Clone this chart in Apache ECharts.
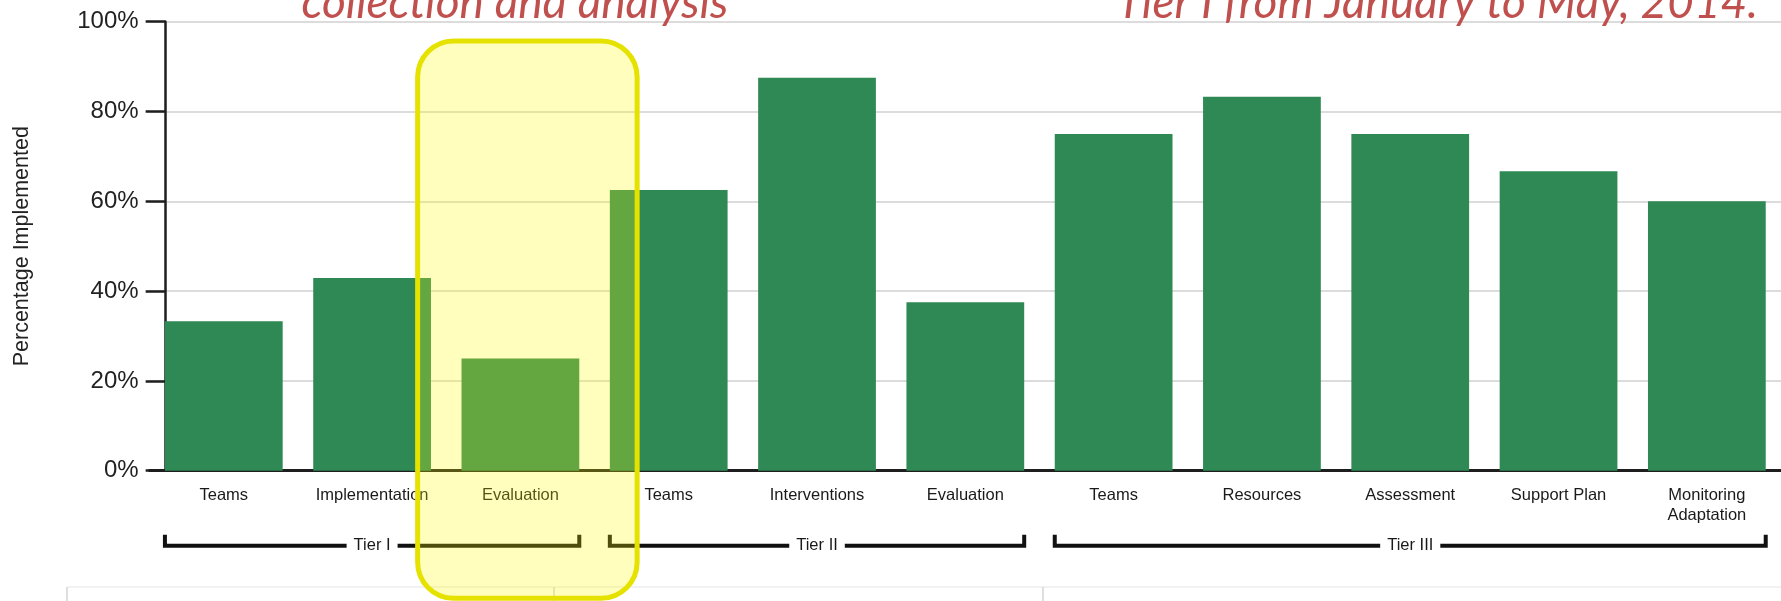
<!DOCTYPE html>
<html>
<head>
<meta charset="utf-8">
<script src="https://cdn.jsdelivr.net/npm/echarts@6/dist/echarts.min.js"></script>
<style>
  html, body { margin: 0; padding: 0; background: #fff; }
  #chart { width: 1781px; height: 601px; }
</style>
</head>
<body>
<div id="chart"></div>
<script>
// Implementation percentage per component, grouped by tier
const categories = ['Teams', 'Implementation', 'Evaluation', 'Teams', 'Interventions', 'Evaluation',
  'Teams', 'Resources', 'Assessment', 'Support Plan', 'Monitoring\nAdaptation'];
const values = [33.3, 42.9, 25, 62.5, 87.5, 37.5, 75, 83.3, 75, 66.7, 60];

// Tier groups: first and last category index of each tier
const tierNames = ['Tier I', 'Tier II', 'Tier III'];
const tierStart = [0, 3, 6];
const tierEnd = [2, 5, 10];

// Category that is called out with the highlight box
const highlightIndex = 2;

const yTicks = [0, 20, 40, 60, 80, 100];

const BAR_FRAC = 0.794;
const LABEL_FONT = '"Liberation Sans Narrow", "Liberation Sans", Arial, sans-serif';
const NUM_FONT = '"Liberation Sans", Arial, sans-serif';
const HEAD_FONT = 'italic 46px Lato, "Open Sans", sans-serif';

const chart = echarts.init(document.getElementById('chart'), null, { renderer: 'canvas' });

const tierData = tierNames.map((n, i) => [tierStart[i], tierEnd[i], 0]);

chart.setOption({
  animation: false,
  backgroundColor: '#ffffff',
  grid: { left: 149.65, top: 21.7, width: 1635.7, height: 449, containLabel: false },
  xAxis: {
    type: 'category',
    data: categories,
    axisLine: { lineStyle: { color: '#1e1e1e', width: 3 } },
    axisTick: { alignWithLabel: true, length: 16, lineStyle: { color: '#1e1e1e', width: 3 } },
    axisLabel: {
      interval: 0, margin: 15, fontSize: 16.5, lineHeight: 20,
      fontFamily: LABEL_FONT, color: '#1a1a1a'
    },
    splitLine: { show: false }
  },
  yAxis: {
    type: 'value',
    min: yTicks[0],
    max: yTicks[yTicks.length - 1],
    interval: 20,
    offset: -16,
    axisLine: { show: true, lineStyle: { color: '#1e1e1e', width: 2.5 } },
    axisTick: { show: true, length: 20, lineStyle: { color: '#1e1e1e', width: 2.5 } },
    axisLabel: { formatter: '{value}%', margin: 27, fontSize: 24, fontFamily: NUM_FONT, color: '#222' },
    splitLine: { lineStyle: { color: '#dcdcdc', width: 2 } },
    name: 'Percentage Implemented',
    nameLocation: 'middle',
    nameGap: 133,
    nameTextStyle: { fontSize: 21.5, fontFamily: NUM_FONT, color: '#222' }
  },
  series: [
    {
      type: 'bar',
      data: values,
      barWidth: (BAR_FRAC * 100) + '%',
      itemStyle: { color: '#2e8955' },
      z: 2
    },
    {
      // tier brackets beneath the category labels
      type: 'custom',
      data: tierData,
      encode: { x: [0, 1], y: 2 },
      clip: false,
      silent: true,
      z: 5,
      renderItem: function (params, api) {
        const band = api.size([1, 0])[0];
        const half = band * BAR_FRAC / 2;
        const x0 = api.coord([api.value(0), 0])[0] - half;
        const x1 = api.coord([api.value(1), 0])[0] + half;
        const y = api.coord([0, 0])[1] + 75;
        return {
          type: 'group',
          children: [
            {
              type: 'polyline',
              shape: { points: [[x0, y - 11], [x0, y], [x1, y], [x1, y - 11]] },
              style: { stroke: '#111', lineWidth: 4, fill: null }
            },
            {
              type: 'text',
              style: {
                text: tierNames[params.dataIndex],
                x: (x0 + x1) / 2, y: y,
                align: 'center', verticalAlign: 'middle',
                fontSize: 16.5, fontFamily: LABEL_FONT, fill: '#1a1a1a',
                backgroundColor: '#fff', padding: [0, 7]
              }
            }
          ]
        };
      }
    },
    {
      // rounded highlight box around one category
      type: 'custom',
      data: [[highlightIndex, 0]],
      encode: { x: 0, y: 1 },
      clip: false,
      silent: true,
      z: 20,
      renderItem: function (params, api) {
        const band = api.size([1, 0])[0];
        const cx = api.coord([api.value(0), 0])[0];
        const yTop = api.coord([0, 100])[1];
        const yBase = api.coord([0, 0])[1];
        const left = cx - band * 0.693;
        const right = cx + band * 0.787;
        const top = yTop + 19.3;
        const bottom = yBase + 127.5;
        return {
          type: 'rect',
          shape: { x: left, y: top, width: right - left, height: bottom - top, r: 36 },
          style: { fill: 'rgba(255,250,0,0.26)', stroke: '#e6e200', lineWidth: 5 }
        };
      }
    }
  ],
  graphic: [
    {
      type: 'text', x: 515, y: 3, z: 30,
      style: {
        text: 'collection and analysis', font: HEAD_FONT,
        fill: '#c0504d', align: 'center', verticalAlign: 'middle'
      }
    },
    {
      type: 'text', x: 1758, y: 3, z: 30,
      style: {
        text: 'Tier I from January to May, 2014.', font: HEAD_FONT,
        fill: '#c0504d', align: 'right', verticalAlign: 'middle'
      }
    },
    { type: 'line', z: 0, shape: { x1: 67, y1: 587, x2: 1781, y2: 587 }, style: { stroke: '#eeeeee', lineWidth: 1.5 } },
    { type: 'line', z: 0, shape: { x1: 67, y1: 587, x2: 67, y2: 601 }, style: { stroke: '#d4d4d4', lineWidth: 1.5 } },
    { type: 'line', z: 0, shape: { x1: 554, y1: 587, x2: 554, y2: 601 }, style: { stroke: '#d4d4d4', lineWidth: 1.5 } },
    { type: 'line', z: 0, shape: { x1: 1043, y1: 587, x2: 1043, y2: 601 }, style: { stroke: '#d4d4d4', lineWidth: 1.5 } }
  ]
});
</script>
</body>
</html>
